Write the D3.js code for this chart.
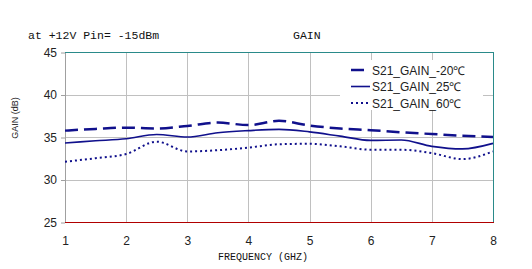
<!DOCTYPE html>
<html>
<head>
<meta charset="utf-8">
<script src="https://cdn.jsdelivr.net/npm/d3@7"></script>
<style>
  body { margin: 0; background: #fff; }
  svg { display: block; }
  .tick text { font-family: Arial, "Liberation Sans", sans-serif; font-size: 12px; fill: #222; }
</style>
</head>
<body>
<svg id="chart"></svg>
<script>
// Chart data
var freqs = [1, 1.5, 2, 2.5, 3, 3.5, 4, 4.5, 5, 5.5, 6, 6.5, 7, 7.5, 8];
var gainM20 = [35.75, 35.95, 36.1, 36.0, 36.3, 36.7, 36.4, 36.9, 36.35, 36.0, 35.8, 35.55, 35.35, 35.15, 35.0];
var gain25 = [34.3, 34.55, 34.8, 35.3, 35.0, 35.5, 35.75, 35.9, 35.6, 35.1, 34.6, 34.65, 33.9, 33.6, 34.25];
var gain60 = [32.1, 32.5, 33.0, 34.45, 33.3, 33.45, 33.75, 34.15, 34.2, 33.9, 33.5, 33.5, 33.1, 32.4, 33.3];
var seriesNames = ["S21_GAIN_-20\u2103", "S21_GAIN_25\u2103", "S21_GAIN_60\u2103"];
var xTicks = [1, 2, 3, 4, 5, 6, 7, 8];
var yTicks = [25, 30, 35, 40, 45];

// SVG size params (plot box in page coordinates)
var W = 532, H = 269;
var plotL = 65, plotR = 493, plotT = 52, plotB = 222;

var root = d3.select("#chart").attr("width", W).attr("height", H);

// Scales
var x = d3.scaleLinear().domain([1, 8]).range([plotL, plotR]);
var y = d3.scaleLinear().domain([25, 45]).range([plotB, plotT]);
var px = v => Math.round(v) + 0.5;

// Grid lines
root.append("g").selectAll("line")
  .data(xTicks.slice(1, -1))
  .enter().append("line")
    .attr("x1", d => px(x(d))).attr("x2", d => px(x(d)))
    .attr("y1", plotT).attr("y2", plotB)
    .attr("stroke", "#c0c0c0");
root.append("g").selectAll("line")
  .data(yTicks.slice(1, -1))
  .enter().append("line")
    .attr("x1", plotL).attr("x2", plotR)
    .attr("y1", d => px(y(d))).attr("y2", d => px(y(d)))
    .attr("stroke", "#c0c0c0");

// Frame: left gray, top/right teal, bottom red
root.append("line").attr("x1", plotL + 0.5).attr("x2", plotL + 0.5).attr("y1", plotT).attr("y2", plotB).attr("stroke", "#a0a0a0");
root.append("line").attr("x1", plotL).attr("x2", plotR).attr("y1", plotT + 0.5).attr("y2", plotT + 0.5).attr("stroke", "#2a8a8a");
root.append("line").attr("x1", plotR + 0.5).attr("x2", plotR + 0.5).attr("y1", plotT).attr("y2", plotB).attr("stroke", "#2a8a8a");
root.append("line").attr("x1", plotL).attr("x2", plotR + 1).attr("y1", plotB + 0.5).attr("y2", plotB + 0.5).attr("stroke", "#b00000");

// Axes
var gy = root.append("g").attr("transform", "translate(" + plotL + ",0.5)")
  .call(d3.axisLeft(y).tickValues(yTicks).tickSize(4).tickPadding(4));
gy.select(".domain").remove();
gy.selectAll(".tick line").attr("stroke", "#a0a0a0");

var gx = root.append("g").attr("transform", "translate(0," + plotB + ")")
  .call(d3.axisBottom(x).tickValues(xTicks).tickFormat(d3.format("d")).tickSize(0).tickPadding(14));
gx.select(".domain").remove();

// Lines
var line = d3.line()
    .x(d => x(d[0]))
    .y(d => y(d[1]))
    .curve(d3.curveMonotoneX);

var styles = [
  {w: 2.5, dash: "13,6"},
  {w: 1.6, dash: null},
  {w: 2, dash: "2,3"}
];
var allSeries = [gainM20, gain25, gain60];

allSeries.forEach(function(vals, i) {
  root.append("path")
    .datum(freqs.map((f, j) => [f, vals[j]]))
    .attr("d", line)
    .attr("fill", "none")
    .attr("stroke", "#10108c")
    .attr("stroke-width", styles[i].w)
    .attr("stroke-dasharray", styles[i].dash);
});

// Legend
var legend = root.append("g");
legend.append("rect")
  .attr("x", 340).attr("y", 60).attr("width", 143).attr("height", 50)
  .attr("fill", "#fff");
seriesNames.forEach(function(name, i) {
  var ly = 70 + i * 16.5;
  legend.append("line")
    .attr("x1", 351).attr("x2", i === 0 ? 364 : 370)
    .attr("y1", ly).attr("y2", ly)
    .attr("stroke", "#10108c")
    .attr("stroke-width", styles[i].w)
    .attr("stroke-dasharray", styles[i].dash);
  legend.append("text")
    .attr("x", 372).attr("y", ly + 4.5)
    .attr("font-family", "Arial, 'Liberation Sans', sans-serif")
    .attr("font-size", 12).attr("fill", "#222")
    .text(name);
});

// Titles
root.append("text").attr("x", 28).attr("y", 39)
  .attr("font-family", "'Liberation Mono', monospace").attr("font-size", 11.5).attr("fill", "#111")
  .text("at +12V Pin= -15dBm");
root.append("text").attr("x", 293).attr("y", 39)
  .attr("font-family", "'Liberation Mono', monospace").attr("font-size", 11.5).attr("fill", "#111")
  .text("GAIN");
root.append("text").attr("x", 218).attr("y", 260)
  .attr("font-family", "'Liberation Mono', monospace").attr("font-size", 10).attr("fill", "#111")
  .text("FREQUENCY (GHZ)");
root.append("text")
  .attr("transform", "translate(18,118) rotate(-90)")
  .attr("text-anchor", "middle")
  .attr("font-family", "Arial, 'Liberation Sans', sans-serif").attr("font-size", 9).attr("fill", "#222")
  .text("GAIN (dB)");
</script>
</body>
</html>
